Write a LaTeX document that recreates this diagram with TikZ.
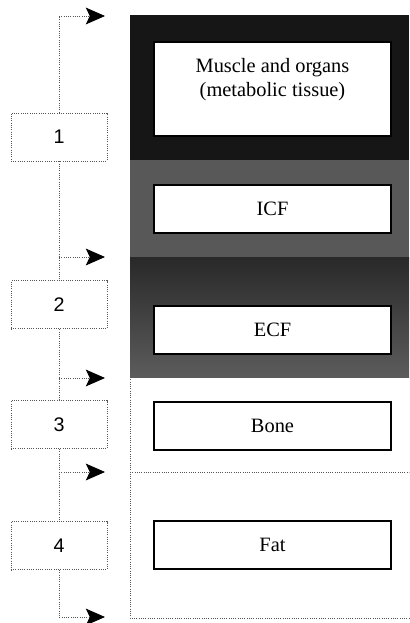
\documentclass[tikz,border=0pt]{standalone}
\usepackage{fontspec}
\setmainfont{Liberation Serif}
\newfontfamily\numfont{Liberation Sans}
\usetikzlibrary{arrows.meta, positioning}
\definecolor{scangray}{RGB}{85,85,85}
\definecolor{muscledark}{RGB}{22,22,22}
\definecolor{icfgray}{RGB}{88,88,88}

\tikzset{
  numbox/.style={draw=scangray, densely dotted, line width=0.6pt, minimum width=2.4cm,
                 minimum height=1.2cm, font=\numfont\fontsize{14}{16}\selectfont},
  tissuebox/.style={draw=black, line width=1pt, fill=white, minimum width=5.925cm,
                    minimum height=1.2cm, align=center, font=\fontsize{14.5}{16.5}\selectfont},
  flowline/.style={scangray, densely dotted, line width=0.6pt},
  flowarrow/.style={flowline, -{Stealth[length=4.8mm, width=4.2mm, inset=1mm, color=black]}}
}

\begin{document}
\begin{tikzpicture}[x=0.025cm, y=-0.025cm]
  \useasboundingbox (0,0) rectangle (409,623);
  % compartments
  \fill[muscledark] (130,15) rectangle (409,160);
  \fill[icfgray] (130,160) rectangle (409,257);
  \shade[top color=black!84, bottom color=black!64] (130,257) rectangle (409,377);
  \draw[flowline] (130,377) -- (130,618) -- (409,618);
  \draw[flowline] (130,472) -- (409,472);

  \node[tissuebox, minimum height=2.35cm] (muscle) at (272.5,89)
    {Muscle and organs\\(metabolic tissue)\\\mbox{}};
  \node[tissuebox] (icf) at (272.5,209) {ICF};
  \node[tissuebox] (ecf) at (272.5,330) {ECF};
  \node[tissuebox] (bone) at (272.5,426) {Bone};
  \node[tissuebox] (fat) at (272.5,545) {Fat};

  % numbered steps
  \node[numbox] (n1) at (59,137) {1};
  \node[numbox, below=2.975cm of n1] (n2) {2};
  \node[numbox, below=1.775cm of n2] (n3) {3};
  \node[numbox, below=1.8cm of n3] (n4) {4};

  \coordinate (a0) at (105,16);
  \coordinate (a1) at (105,257);
  \coordinate (a2) at (105,378);
  \coordinate (a3) at (105,472);
  \coordinate (a4) at (105,617);

  \draw[flowarrow] (n1.north) |- (a0);
  \draw[flowline] (n1.south) -- (n2.north);
  \draw[flowarrow] (n1.south |- a1) -- (a1);
  \draw[flowline] (n2.south) -- (n3.north);
  \draw[flowarrow] (n2.south |- a2) -- (a2);
  \draw[flowline] (n3.south) -- (n4.north);
  \draw[flowarrow] (n3.south |- a3) -- (a3);
  \draw[flowarrow] (n4.south) |- (a4);
\end{tikzpicture}
\end{document}
